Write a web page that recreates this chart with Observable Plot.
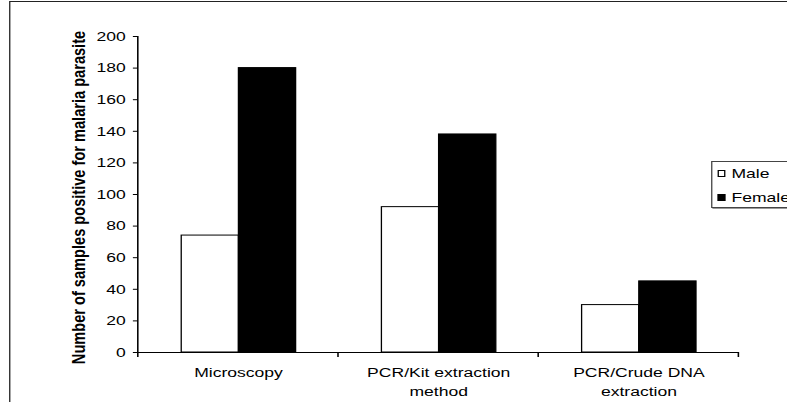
<!DOCTYPE html>
<html><head><meta charset="utf-8">
<script src="https://cdn.jsdelivr.net/npm/d3@7"></script>
<script src="https://cdn.jsdelivr.net/npm/@observablehq/plot@0.6"></script>
<style>
html,body{margin:0;padding:0;background:#fff;overflow:hidden;}
#wrap{position:relative;width:605.4px;height:402px;transform:scaleX(1.3);transform-origin:0 0;font-family:"Liberation Sans",Arial,sans-serif;color:#000;}
#border{position:absolute;left:6.9px;top:1px;width:1000px;height:1000px;border:1.5px solid #222;box-sizing:border-box;}
#chart{position:absolute;left:0;top:0;}
#legend{position:absolute;left:546.9px;top:161px;width:100px;height:47px;border:1px solid #444;box-shadow:1px 1px 0 #999;background:#fff;font-size:13.5px;box-sizing:border-box;}
.item{position:absolute;left:4.2px;height:14px;line-height:14px;white-space:nowrap;}
.sw{display:inline-block;width:5.6px;height:7.5px;border:1px solid #000;box-sizing:border-box;vertical-align:middle;margin-right:5px;margin-top:-2px;}
</style></head>
<body>
<div id="wrap">
  <div id="border"></div>
  <div id="chart"></div>
  <div id="legend"></div>
</div>
<script>
const categories = ["Microscopy", "PCR/Kit extraction method", "PCR/Crude DNA extraction"];
const categoryLabels = ["Microscopy", "PCR/Kit extraction\nmethod", "PCR/Crude DNA\nextraction"];
const series = ["Male", "Female"];
const seriesColors = ["white", "black"];
const maleValues = [74, 92, 30];
const femaleValues = [180, 138, 45];
const yTicks = [0, 20, 40, 60, 80, 100, 120, 140, 160, 180, 200];
const yTitle = "Number of samples positive for malaria parasite";

const rows = [];
categories.forEach((c, i) => {
  rows.push({method: c, sex: "Male", value: maleValues[i]});
  rows.push({method: c, sex: "Female", value: femaleValues[i]});
});

const chart = Plot.plot({
  width: 605.4, height: 402,
  marginLeft: 104.6, marginRight: 36.2, marginTop: 36, marginBottom: 50,
  fx: {domain: categories, padding: 0, axis: null},
  x: {domain: series, paddingInner: 0, paddingOuter: 0.74, axis: null},
  y: {domain: [0, 200], axis: null},
  color: {domain: series, range: seriesColors},
  style: {fontFamily: "'Liberation Sans', Arial, sans-serif", fontSize: "13px", color: "black", background: "transparent", overflow: "visible"},
  marks: [
    Plot.barY(rows, {fx: "method", x: "sex", y: "value", fill: "sex", stroke: "black", strokeWidth: 1}),
    Plot.ruleY([0], {stroke: "black", strokeWidth: 1.2}),
    Plot.axisY({ticks: yTicks, tickSize: 3.8, tickPadding: 6, fontSize: 13.5, label: null}),
    Plot.text(categories, {fx: d => d, text: (d, i) => categoryLabels[i], frameAnchor: "bottom", dy: 10.5, lineAnchor: "top", lineHeight: 1.42, fontSize: 13.5, fill: "black"}),
    Plot.text([yTitle], {fx: () => categories[0], frameAnchor: "left", rotate: -90, dx: -51.5, dy: 3, lineAnchor: "top", textAnchor: "middle", fontWeight: "bold", fontSize: 14.6, fill: "black"})
  ]
});
document.getElementById("chart").appendChild(chart);

// axis line and category-boundary ticks from the library's scales
const fx = chart.scale("fx"), y = chart.scale("y");
const svg = d3.select(chart);
const yb = y.apply(0), yt = y.apply(200);
const bounds = categories.map(c => fx.apply(c));
bounds.push(fx.apply(categories[categories.length - 1]) + fx.bandwidth);
svg.append("line").attr("x1", bounds[0]).attr("x2", bounds[0]).attr("y1", yb).attr("y2", yt)
  .attr("stroke", "black").attr("stroke-width", 1.2);
svg.selectAll("line.bt").data(bounds).join("line").attr("class", "bt")
  .attr("x1", d => d).attr("x2", d => d).attr("y1", yb).attr("y2", yb + 5)
  .attr("stroke", "black").attr("stroke-width", 1.2);

// legend
const legend = d3.select("#legend");
series.forEach((s, i) => {
  const it = legend.append("div").attr("class", "item").style("top", (i === 0 ? 5 : 29) + "px");
  it.append("span").attr("class", "sw").style("background", seriesColors[i]);
  it.append("span").text(s);
});
</script>
</body></html>
